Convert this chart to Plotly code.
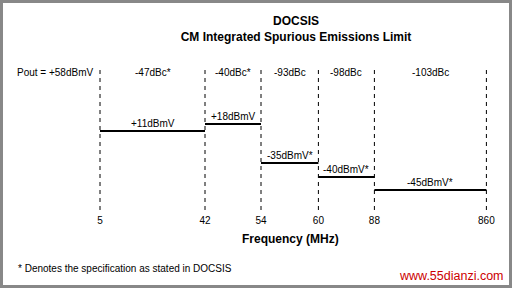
import plotly.graph_objects as go

# ---- data ----
freq_labels = ["5", "42", "54", "60", "88", "860"]          # band edges (MHz)
band_dbc = ["-47dBc*", "-40dBc*", "-93dBc", "-98dBc", "-103dBc"]
limit_dbmv = [11, 18, -35, -40, -45]
limit_labels = ["+11dBmV", "+18dBmV", "-35dBmV*", "-40dBmV*", "-45dBmV*"]
pout_label = "Pout = +58dBmV"

# ---- schematic layout (not to scale) ----
edge_pos = [0, 1.875, 2.875, 3.9, 4.9, 6.9]   # schematic x slot of each band edge
level_height = [79, 86, 47, 33, 20]           # schematic drawing height of each limit
header_height = 138
W, H = 512, 288
ML, MR, MT, MB = 0, 0, 68, 78
PX_PER_UNIT = 56.0
X0_PX = 100.0
xr = [(0 - X0_PX) / PX_PER_UNIT, (W - X0_PX) / PX_PER_UNIT]
yr = [0, H - MT - MB]

def px_x(p):
    return (p - X0_PX) / PX_PER_UNIT

def paper_y(p):
    return (H - MB - p) / (H - MT - MB)

FONT = "Liberation Sans, Arial, sans-serif"

fig = go.Figure()

# dashed band-edge lines
vx, vy = [], []
for e in edge_pos:
    vx += [e, e, None]
    vy += [yr[0], yr[1], None]
fig.add_trace(go.Scatter(x=vx, y=vy, mode="lines",
                         line=dict(color="black", width=1, dash="4px,4px"),
                         hoverinfo="skip", cliponaxis=False))

# limit segments
for i, h in enumerate(level_height):
    fig.add_trace(go.Scatter(x=[edge_pos[i], edge_pos[i + 1]], y=[h, h], mode="lines",
                             line=dict(color="black", width=2),
                             hoverinfo="skip", cliponaxis=False))

ann = []
# band dBc labels
for i, t in enumerate(band_dbc):
    ann.append(dict(x=(edge_pos[i] + edge_pos[i + 1]) / 2, y=header_height, text=t,
                    showarrow=False, xanchor="center", yanchor="middle",
                    font=dict(size=10, color="black", family=FONT)))
ann.append(dict(x=px_x(15), y=header_height, text=pout_label, showarrow=False,
                xanchor="left", yanchor="middle",
                font=dict(size=10, color="black", family=FONT)))
# limit labels
for i, t in enumerate(limit_labels):
    ann.append(dict(x=(edge_pos[i] + edge_pos[i + 1]) / 2, y=level_height[i], text=t,
                    showarrow=False, xanchor="center", yanchor="bottom", yshift=0,
                    font=dict(size=10, color="black", family=FONT)))
# x-axis title (offset from plot centre as in the original)
ann.append(dict(xref="paper", yref="paper", x=290 / W, y=paper_y(239),
                text="<b>Frequency (MHz)</b>", showarrow=False,
                xanchor="center", yanchor="middle",
                font=dict(size=12, color="black", family=FONT)))
# footnote and watermark
ann.append(dict(xref="paper", yref="paper", x=16 / W, y=paper_y(268),
                text="* Denotes the specification as stated in DOCSIS", showarrow=False,
                xanchor="left", yanchor="middle",
                font=dict(size=10, color="black", family=FONT)))
ann.append(dict(xref="paper", yref="paper", x=506 / W, y=paper_y(276),
                text="www.55dianzi.com", showarrow=False,
                xanchor="right", yanchor="middle",
                font=dict(size=12.5, color="#cc0000", family=FONT)))

fig.update_layout(
    width=W, height=H,
    margin=dict(l=ML, r=MR, t=MT, b=MB),
    paper_bgcolor="white", plot_bgcolor="white",
    showlegend=False,
    title=dict(text="<b>DOCSIS</b><br><b>CM Integrated Spurious Emissions Limit</b>",
               x=296 / W, xanchor="center", xref="paper",
               y=1 - 25 / H, yanchor="top", yref="container",
               font=dict(size=12, color="black", family=FONT)),
    xaxis=dict(range=xr, tickmode="array", tickvals=edge_pos, ticktext=freq_labels,
               showgrid=False, zeroline=False, showline=False, ticks="",
               ticklabelstandoff=3,
               tickfont=dict(size=10, color="black", family=FONT),
               fixedrange=True),
    yaxis=dict(range=yr, visible=False, fixedrange=True),
    annotations=ann,
    shapes=[dict(type="rect", xref="paper", yref="paper",
                 x0=1.5 / W, x1=(W - 1.5) / W, y0=paper_y(H - 1.5), y1=paper_y(1.5),
                 line=dict(color="#888888", width=3), fillcolor="rgba(0,0,0,0)")],
)

fig.write_html("out.html")
